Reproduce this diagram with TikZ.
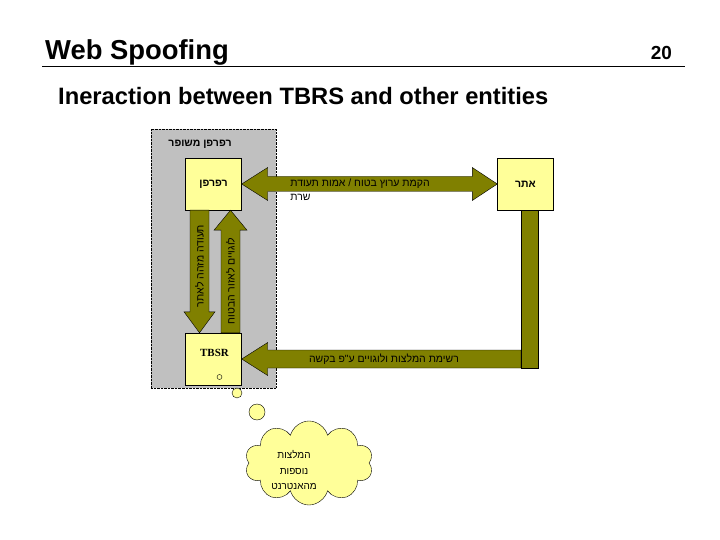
\documentclass[tikz,border=0pt]{standalone}
\usepackage{fontspec}
\setmainfont{Liberation Sans}
\newfontfamily\hebfont[Script=Hebrew]{Liberation Sans}
\newfontfamily\serfont{Liberation Serif}
\TeXXeTstate=1
\usetikzlibrary{calc,shapes.symbols}

\definecolor{olivebar}{HTML}{808000}
\definecolor{paleyellow}{HTML}{FFFF99}
\definecolor{panelgray}{HTML}{C0C0C0}
\newcommand{\heb}[1]{{\hebfont\beginR #1\endR}}

\tikzset{
  entity/.style={draw, thin, fill=paleyellow, minimum width=56bp,
    minimum height=52bp, inner sep=0pt,
    font=\hebfont\bfseries\fontsize{10.5}{12}\selectfont},
  blockarrow/.style={draw=black, thin, fill=olivebar},
  arrowtext/.style={inner sep=0pt, font=\hebfont\fontsize{10.5}{12}\selectfont},
  bubble/.style={circle, draw, thin, fill=paleyellow, inner sep=0pt}
}

\begin{document}
\begin{tikzpicture}[x=1bp, y=-1bp]
\useasboundingbox[fill=white] (0,0) rectangle (720,540);

% heading
\node[anchor=base west, inner sep=0pt, font=\bfseries\fontsize{27.5}{30}\selectfont]
  (title) at (45,60) {Web Spoofing};
\node[anchor=base east, inner sep=0pt, font=\bfseries\fontsize{19}{22}\selectfont]
  (pageno) at (672,60) {20};
\draw[thin] (title.base west) ++(-3,6) coordinate (rulestart) -- (rulestart -| 685,0);
\node[anchor=base west, inner sep=0pt, font=\bfseries\fontsize{23.8}{26}\selectfont]
  (subtitle) at (58,105) {Ineraction between TBRS and other entities};

% enhanced browser area
\node[draw, densely dotted, fill=panelgray, minimum width=125bp,
  minimum height=259bp, inner sep=0pt] (panel) at (213.5,258.5) {};
\node[arrowtext, font=\hebfont\bfseries\fontsize{10.5}{12}\selectfont]
  (paneltitle) at (200,144) {\heb{רפרפן משופר}};

\node[entity] (browser) at (213.5,184) {\heb{רפרפן}};
\node[entity] (site) at (525.5,184) {\heb{אתר}};
\node[entity] (tbsr) at (213.5,359) {};
\node[inner sep=0pt, font=\serfont\bfseries\fontsize{11}{13}\selectfont]
  (tbsrname) at ($(tbsr)+(1,-6)$) {TBSR};
\node[circle, draw, thin, inner sep=0pt, minimum size=5bp] (tbsrdot)
  at ($(tbsr)+(6,18)$) {};

% secure channel
\draw[blockarrow] (browser.east) -- ++(26,-16.5) -- ++(0,9)
  -- ($(site.west)+(-25,-7.5)$) -- ++(0,-9) -- (site.west) -- ++(-25,16.5)
  -- ++(0,-9) -- ($(browser.east)+(26,7.5)$) -- ++(0,9) -- cycle;
\node[arrowtext] (setup) at (360,184) {\heb{הקמת ערוץ בטוח / אמות תעודת}};
\node[arrowtext, anchor=base west] (server) at ($(setup.base west)+(0,14)$)
  {\heb{שרת}};

% browser -> TBSR
\draw[blockarrow] ($(browser.south)+(-23.5,0)$) -- ($(browser.south)+(-4.5,0)$)
  -- ($(tbsr.north)+(-4.5,-21)$) -- ($(tbsr.north)+(1.5,-21)$)
  -- ($(tbsr.north)+(-14,0)$) -- ($(tbsr.north)+(-29.5,-21)$)
  -- ($(tbsr.north)+(-23.5,-21)$) -- cycle;
\node[arrowtext, rotate=90] (certnote) at (199.5,266) {\heb{תעודה מזהה לאתר}};

% TBSR -> browser
\draw[blockarrow] ($(tbsr.north)+(7.5,0)$) -- ($(browser.south)+(7.5,20)$)
  -- ($(browser.south)+(0.5,20)$) -- ($(browser.south)+(17,0)$)
  -- ($(browser.south)+(33.5,20)$) -- ($(browser.south)+(26.5,20)$)
  -- ($(tbsr.north)+(26.5,0)$) -- cycle;
\node[arrowtext, rotate=90] (logonote) at (230.5,281) {\heb{לוגויים לאזור הבטוח}};

% site -> TBSR
\coordinate (barleft) at ($(site.south)+(-4.5,0)$);
\coordinate (corner) at (barleft |- tbsr.east);
\draw[blockarrow] (tbsr.east) -- ++(26,-16.5) -- ++(0,7.5)
  -- ($(corner)+(0,-9)$) -- ($(corner)+(0,9)$)
  -- ($(tbsr.east)+(26,9)$) -- ++(0,7.5) -- cycle;
\draw[blockarrow] (barleft) rectangle ($(corner)+(17,9)$);
\node[arrowtext] (recs) at (384,359) {\heb{רשימת המלצות ולוגויים ע"פ בקשה}};

% thought cloud
\node[bubble, minimum size=10bp] (dot1) at (237,393) {};
\node[bubble, minimum size=16bp] (dot2) at (257,412) {};
\node[cloud, cloud puffs=10, aspect=1.4, draw, thin, fill=paleyellow,
  minimum width=128bp, minimum height=84bp] (cloud) at (309,463) {};
\node[arrowtext, align=center, font=\hebfont\fontsize{10}{15.5}\selectfont]
  (cloudtext) at (294,470) {\heb{המלצות}\\\heb{נוספות}\\\heb{מהאנטרנט}};

\end{tikzpicture}
\end{document}
